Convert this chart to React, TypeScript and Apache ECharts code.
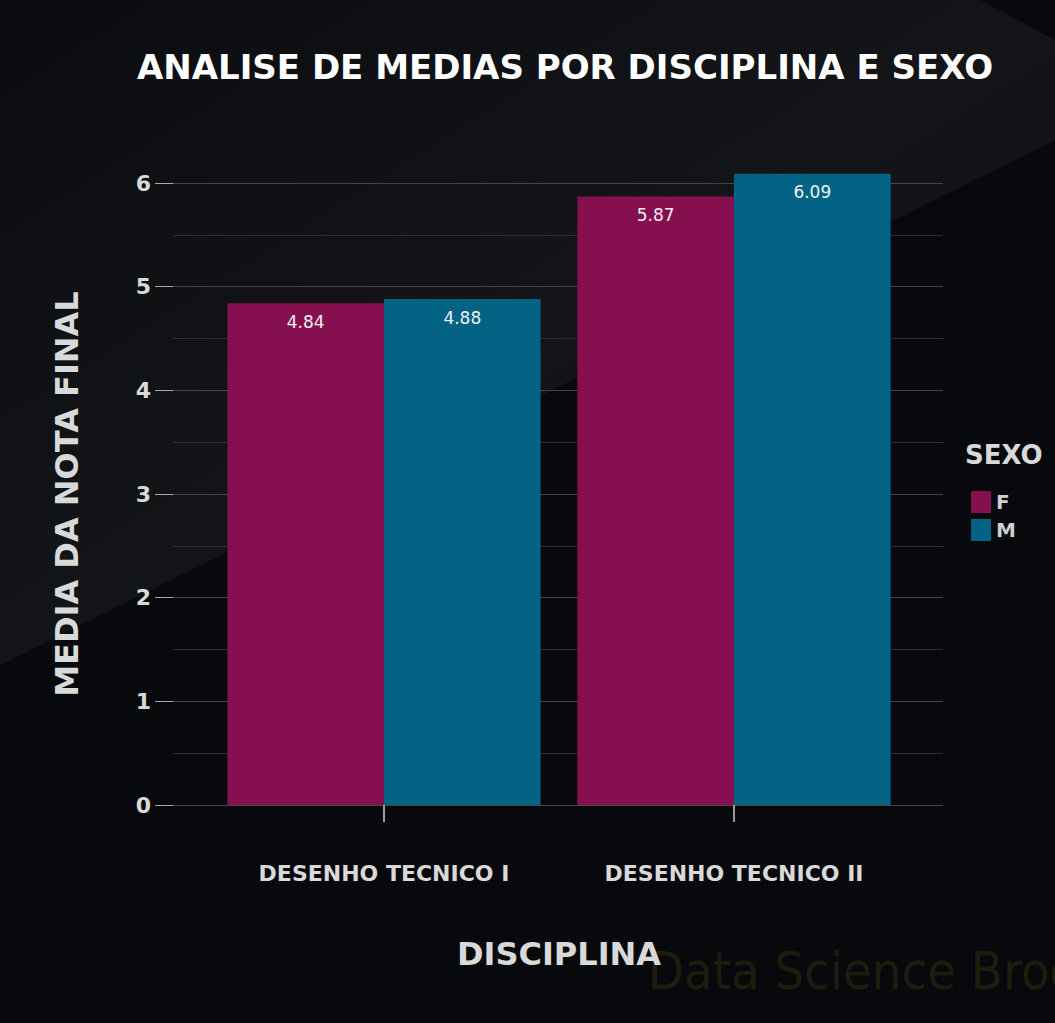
import React, { useEffect, useRef } from "react";
import * as echarts from "echarts";

const categories = ["DESENHO TECNICO I", "DESENHO TECNICO II"];
const valuesF = [4.84, 5.87];
const valuesM = [4.88, 6.09];
const seriesNames = ["F", "M"];

const font = "'DejaVu Sans', sans-serif";

export default function App() {
  const ref = useRef<HTMLDivElement>(null);
  useEffect(() => {
    const chart = echarts.init(ref.current!, null, { renderer: "svg" });
    const labelCfg = {
      show: true, position: "insideTop", distance: 10, color: "#f0f0f0", fontSize: 17, fontFamily: font,
      formatter: (p: any) => p.value.toFixed(2),
    };
    chart.setOption({
      animation: false,
      backgroundColor: "#08090c",
      graphic: [
        {
          type: "polygon",
          silent: true,
          z: -10,
          shape: { points: [[0, 0], [980, 0], [1055, 40], [1055, 140], [0, 665]] },
          style: {
            fill: new echarts.graphic.LinearGradient(0, 0, 1, 1, [
              { offset: 0, color: "#0b0c10" },
              { offset: 0.5, color: "#141518" },
              { offset: 1, color: "#0a0b0e" },
            ]),
          },
        },
        {
          type: "text",
          left: 648,
          top: 945,
          style: { text: "Data Science Broon", font: "52px 'Liberation Sans Narrow', 'DejaVu Sans Condensed', sans-serif", fill: "#1d1d0e" },
        },
        {
          type: "text",
          left: 965,
          top: 442,
          style: { text: "SEXO", font: "bold 26px 'DejaVu Sans', sans-serif", fill: "#d9d9d9" },
        },
      ],
      title: {
        text: "ANALISE DE MEDIAS POR DISCIPLINA E SEXO",
        left: 560,
        textAlign: "center",
        top: 45,
        textStyle: { color: "#ffffff", fontSize: 34, fontWeight: "bold", fontFamily: font },
      },
      legend: {
        orient: "vertical",
        left: 966,
        top: 486,
        itemWidth: 20,
        itemHeight: 22,
        itemGap: 6,
        icon: "rect",
        textStyle: { color: "#d0d0d0", fontSize: 20, fontWeight: "bold", fontFamily: font },
        data: seriesNames,
      },
      grid: [
        { left: 173, right: 112, top: 183, bottom: 1023 - 805 },
        { left: 209, right: 146, top: 183, bottom: 1023 - 805 },
      ],
      xAxis: [
        { type: "category", gridIndex: 0, data: categories, show: false },
        {
          type: "category",
          gridIndex: 1,
          data: categories,
          offset: 33,
          name: "DISCIPLINA",
          nameLocation: "middle",
          nameGap: 100,
          nameTextStyle: { color: "#d9d9d9", fontSize: 32, fontWeight: "bold", fontFamily: font },
          axisLine: { show: false },
          axisTick: { show: true, alignWithLabel: true, length: 17, lineStyle: { color: "#cccccc", width: 1.5 } },
          axisLabel: { color: "#d9d9d9", fontSize: 22, fontWeight: "bold", fontFamily: font, margin: 24 },
        },
      ],
      yAxis: [
        {
          type: "value",
          gridIndex: 0,
          min: 0,
          max: 6,
          interval: 1,
          name: "MEDIA DA NOTA FINAL",
          nameLocation: "middle",
          nameGap: 90,
          nameTextStyle: { color: "#d9d9d9", fontSize: 32, fontWeight: "bold", fontFamily: font },
          axisLine: { show: false },
          axisTick: { show: true, length: 18, lineStyle: { color: "#aaaaaa" } },
          axisLabel: { color: "#d9d9d9", fontSize: 22, fontWeight: "bold", fontFamily: font, margin: 22 },
          splitLine: { lineStyle: { color: "#444", width: 1 } },
          minorTick: { show: false, splitNumber: 2 },
          minorSplitLine: { show: true, lineStyle: { color: "#2e2e2e", width: 1 } },
        },
        { type: "value", gridIndex: 1, min: 0, max: 6, interval: 1, show: false, splitLine: { show: false } },
      ],
      series: [
        {
          name: "F",
          type: "bar",
          xAxisIndex: 1,
          yAxisIndex: 1,
          data: valuesF,
          clip: false,
          barGap: "0%",
          barCategoryGap: "10.5%",
          itemStyle: { color: "#850f4f" },
          label: labelCfg,
        },
        {
          name: "M",
          type: "bar",
          xAxisIndex: 1,
          yAxisIndex: 1,
          data: valuesM,
          clip: false,
          itemStyle: { color: "#026385" },
          label: labelCfg,
        },
      ],
    });
    return () => chart.dispose();
  }, []);
  return <div ref={ref} style={{ width: 1055, height: 1023, position: "absolute", left: 0, top: 0 }} />;
}
